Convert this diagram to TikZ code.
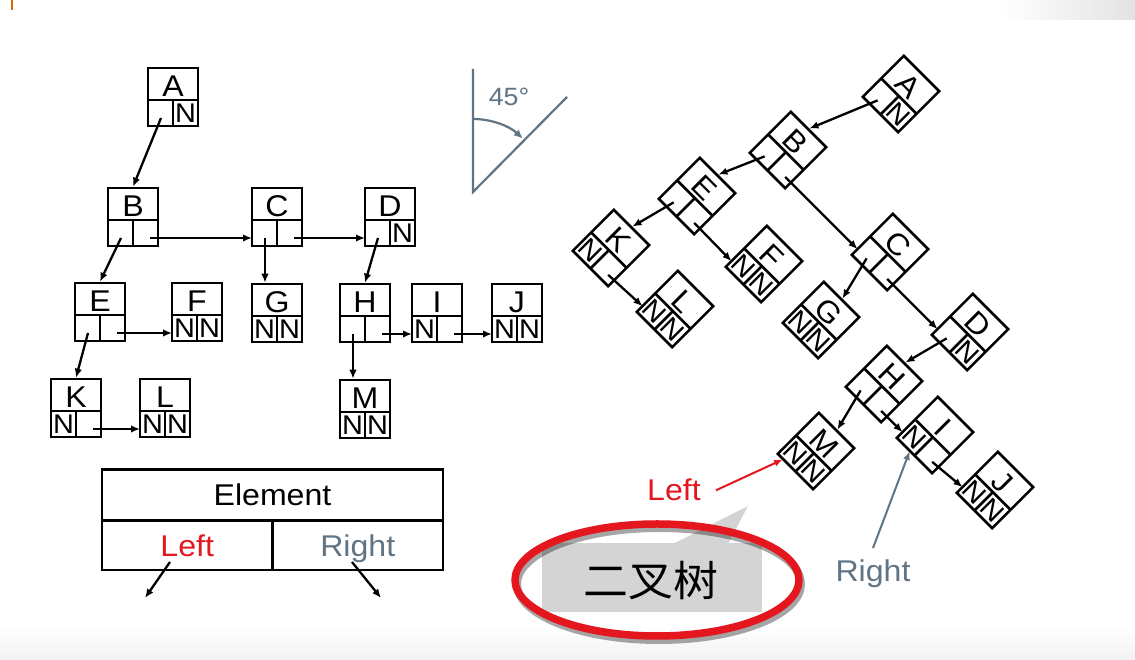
\documentclass[tikz,border=0pt]{standalone}
\usepackage{fontspec}
\setmainfont{Liberation Sans}[FakeStretch=1.07]
\newfontfamily\cjk{Noto Sans CJK SC}[FakeStretch=1.07]
\usetikzlibrary{arrows.meta}
\definecolor{leftred}{RGB}{228,22,30}
\definecolor{rightgray}{RGB}{96,116,132}
\definecolor{bubblegray}{RGB}{212,212,212}

\tikzset{
  elembox/.style={draw, line width=2.6pt, minimum width=50pt, minimum height=58pt, inner sep=0pt},
  letter/.style={inner sep=0pt, font=\fontsize{30}{30}\selectfont},
  cell/.style={inner sep=0pt, minimum width=25pt, minimum height=26pt, font=\fontsize{27}{27}\selectfont},
  ptr/.style={line width=2.3pt, -{Latex[length=9pt,width=7.5pt]}},
  legend/.style={draw, line width=2.4pt, inner sep=0pt, text height=21.5pt, text depth=0pt, font=\fontsize{30}{30}\selectfont},
  angleline/.style={draw=rightgray, line width=2.2pt},
}

\newcommand{\treebox}[6]{%
  \begin{scope}[shift={#2}, rotate=#3, transform shape]
    \node[elembox] (#1) at (0,0) {};
    \draw[line width=2.6pt] (-25,-3) -- (25,-3) (0,-3) -- (0,-29);
    \node[letter] (#1-t) at (0,11) {#4};
    \node[cell] (#1-a) at (-12.5,-16) {#5};
    \node[cell] (#1-b) at (12.5,-16) {#6};
    \coordinate (#1-l) at (-12,-21);
    \coordinate (#1-r) at (17,-21);
    \coordinate (#1-in) at (-25,-21);
  \end{scope}}

\begin{document}
\begin{tikzpicture}[x=1pt, y=1pt]
\path[use as bounding box, fill=white] (0,0) rectangle (1135,660);
\shade[top color=white, bottom color=gray!10] (0,0) rectangle (1135,34);
\shade[left color=white, right color=gray!22] (1000,640) rectangle (1135,660);
\draw[orange!85!black, line width=2pt] (12,660) -- (12,650);

% left tree
\foreach \n/\px/\py/\a/\b in {A/173/563//N, B/133/443//, C/277/443//, D/390/443//N,
    E/100/348//, F/197/348/N/N, G/277/347/N/N, H/365/347//, I/437/347/N/,
    J/517/347/N/N, K/76/252/N/, L/165/252/N/N, M/365/251/N/N}
  \treebox{\n}{(\px,\py)}{0}{\n}{\a}{\b};

% rotated tree
\foreach \n/\px/\py/\a/\b in {A/901/566//N, B/788/510//, E/697/464//, K/611/412/N/,
    F/764/396/N/N, L/675/351/N/N, C/890/408//, G/821/340/N/N, D/970/328//N,
    H/884/276//, M/816/209/N/N, I/935/225/N/, J/995/170/N/N}
  \treebox{r\n}{(\px,\py)}{-45}{\n}{\a}{\b};

\foreach \p/\c in {B/C, C/D, E/F, K/L, H/I, I/J} {
  \draw[ptr] (\p-r) -- (\c-in);
  \draw[ptr] (r\p-r) -- (r\c-in);
}
\foreach \p/\c in {A/B, B/E, E/K, D/H}
  \draw[ptr] (\p-l) -- (\c.north);
\foreach \p/\c in {C/G, H/M}
  \draw[ptr] (\p-l) -- (\p-l |- \c.north);
\foreach \p/\c in {A/B, B/E, E/K, C/G, D/H, H/M}
  \draw[ptr] (r\p-l) -- (r\c.north);

% Element / Left / Right
\node[legend, minimum width=341pt, minimum height=51pt] (elem) at (272.5,165) {Element};
\node[legend, minimum width=170.5pt, minimum height=49pt, text=leftred] (lcell) at (187.25,114.5) {Left};
\node[legend, minimum width=170.5pt, minimum height=49pt, text=rightgray] (rcell) at (357.75,114.5) {Right};
\coordinate (lstart) at (170,98);
\coordinate (lend) at (145,62);
\coordinate (rstart) at (352,98);
\coordinate (rend) at (381,62);
\draw[ptr] (lstart) -- (lend);
\draw[ptr] (rstart) -- (rend);

% 45 degrees
\coordinate (apex) at (473,468);
\draw[angleline] (473,591) -- (apex) -- (567,563);
\draw[angleline, -{Latex[length=9pt,width=8pt]}] ([shift={(90:73)}]apex) arc (90:47:73);
\node[anchor=base, inner sep=0pt, text=rightgray, font=\fontsize{25}{25}\selectfont] (deg) at (509,554) {45°};

% bubble
\fill[bubblegray] (542,48) rectangle (762,117);
\fill[bubblegray] (673,116) -- (748,154) -- (728,116) -- cycle;
\draw[black, opacity=.35, line width=8pt] (659,76) ellipse (142 and 56);
\draw[leftred, line width=7.5pt] (657,80) ellipse (142 and 56);
\node[inner sep=0pt, font=\cjk\fontsize{42}{42}\selectfont] (bt) at (651,79) {二叉树};

\node[anchor=base, inner sep=0pt, text=leftred, font=\fontsize{30}{30}\selectfont] (ltxt) at (674,159) {Left};
\draw[leftred, line width=2pt, -{Latex[length=9pt,width=7pt]}] ([xshift=15pt]ltxt.east) -- (rM-a);
\node[anchor=base, inner sep=0pt, text=rightgray, font=\fontsize{30}{30}\selectfont] (rtxt) at (873,78) {Right};
\draw[rightgray, line width=2pt, -{Latex[length=9pt,width=7pt]}] ([yshift=12pt]rtxt.north) -- (rI-a);
\end{tikzpicture}
\end{document}
